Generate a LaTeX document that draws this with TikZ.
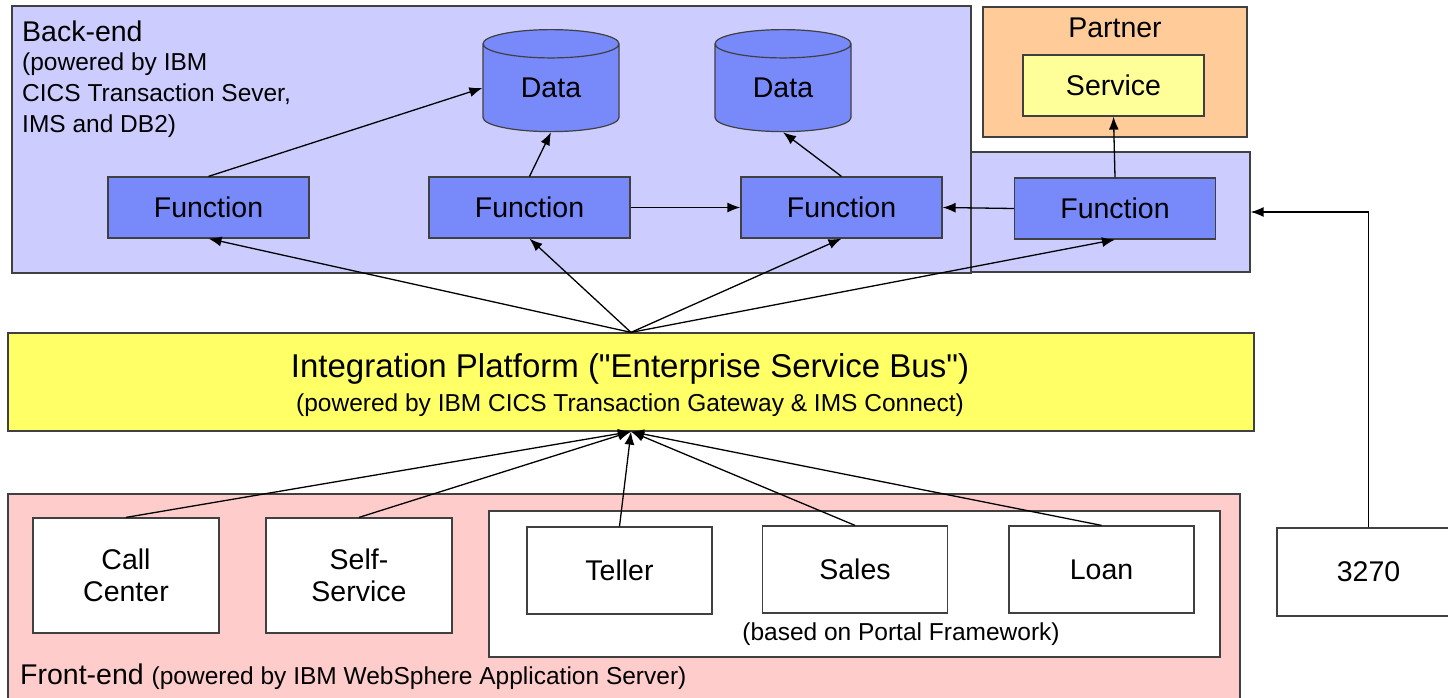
\documentclass[tikz,border=0pt]{standalone}
\usepackage{fontspec}
\setmainfont{Liberation Sans}
\usetikzlibrary{shapes.geometric}
\usetikzlibrary{arrows.meta}

\definecolor{backblue}{HTML}{CCCCFF}
\definecolor{funcblue}{HTML}{7889F9}
\definecolor{partnerorange}{HTML}{FFCC99}
\definecolor{serviceyellow}{HTML}{FFFF99}
\definecolor{busyellow}{HTML}{FFFF66}
\definecolor{frontpink}{HTML}{FFCCCC}
\definecolor{edgegray}{HTML}{404040}

\newcommand\labelsize{\fontsize{28.5}{32}\selectfont}
\newcommand\notesize{\fontsize{24.5}{31}\selectfont}
\newcommand\titlesize{\fontsize{33}{36}\selectfont}

\tikzset{
  area/.style={draw=edgegray, line width=1.2pt, inner sep=0pt},
  func/.style={area, fill=funcblue, minimum width=201pt, minimum height=61pt, font=\labelsize},
  store/.style={area, fill=funcblue, cylinder, shape border rotate=90, aspect=0.47,
                minimum width=136pt, minimum height=102pt, font=\labelsize},
  client/.style={area, fill=white, align=center, font=\labelsize},
  bigtext/.style={inner sep=0pt, font=\labelsize},
  smalltext/.style={inner sep=0pt, font=\notesize},
  link/.style={line width=1.3pt, -{Latex[length=13pt,width=10pt]}}
}

\begin{document}
\begin{tikzpicture}[x=1pt,y=-1pt]
        \useasboundingbox (0,0) rectangle (1448,698);

        % back-end and partner
        \path node (backend) [area,fill=backblue,minimum width=959pt,minimum height=267pt] at (491.5,139.5) {};
        \path node (ext) [area,fill=backblue,minimum width=279pt,minimum height=120pt] at (1110.5,212) {};
        \path node (partner) [area,fill=partnerorange,minimum width=264pt,minimum height=130pt] at (1115,72) {};
        \path node (bename) [bigtext,anchor=west] at (22,31) {Back-end};
        \path node (benote) [smalltext,anchor=west,align=left] at (22,95) {(powered by IBM\\CICS Transaction Sever,\\IMS and DB2)};
        \path node (ptname) [bigtext] at (1115,28) {Partner};
        \path node (service) [area,fill=serviceyellow,minimum width=181pt,minimum height=61pt,font=\labelsize] at (1113.5,85.5) {Service};

        \path node (data1) [store] at (551,88) {Data};
        \path node (data2) [store] at (783,88) {Data};

        \path node (fn1) [func] at (208.5,207.5) {Function};
        \path node (fn2) [func] at (529.5,207.5) {Function};
        \path node (fn3) [func] at (841.5,207.5) {Function};
        \path node (fn4) [func] at (1115,208.5) {Function};

        % integration platform
        \path node (esb) [area,fill=busyellow,minimum width=1246pt,minimum height=98pt] at (631,382) {};
        \path node (esbtitle) [inner sep=0pt,font=\titlesize] at (630,369) {Integration Platform (\textquotedbl Enterprise Service Bus\textquotedbl)};
        \path node (esbnote) [smalltext] at (630,405) {(powered by IBM CICS Transaction Gateway \& IMS Connect)};

        % front-end
        \path node (front) [area,fill=frontpink,minimum width=1232pt,minimum height=216pt] at (624,602) {};
        \path node (call) [client,minimum width=186pt,minimum height=115pt] at (126,575.5) {Call\\Center};
        \path node (self) [client,minimum width=186pt,minimum height=115pt] at (359,575.5) {Self-\\Service};
        \path node (portal) [area,fill=white,minimum width=731pt,minimum height=146pt] at (854.5,584) {};
        \path node (teller) [client,minimum width=185pt,minimum height=87pt] at (619.5,570.5) {Teller};
        \path node (sales) [client,minimum width=185pt,minimum height=87pt] at (855,569.5) {Sales};
        \path node (loan) [client,minimum width=185pt,minimum height=87pt] at (1101.5,569.5) {Loan};
        \path node (ptnote) [smalltext] at (901,634) {(based on Portal Framework)};
        \path node (frname) [inner sep=0pt,anchor=west] at (20,677) {{\labelsize Front-end }{\notesize (powered by IBM WebSphere Application Server)}};

        \path node (term) [client,minimum width=183pt,minimum height=88pt] at (1368.5,572) {3270};

        % connectors
        \draw[link] (esb.north) -- (fn1.south);
        \draw[link] (esb.north) -- (fn2.south);
        \draw[link] (esb.north) -- (fn3.south);
        \draw[link] (esb.north) -- (fn4.south);

        \draw[link] (call.north) -- (esb.south);
        \draw[link] (self.north) -- (esb.south);
        \draw[link] (teller.north) -- (esb.south);
        \draw[link] (sales.north) -- (esb.south);
        \draw[link] (loan.north) -- (esb.south);

        \draw[link] (fn1.north) -- (data1.180);
        \draw[link] (fn2.north) -- (data1.270);
        \draw[link] (fn3.north) -- (data2.270);
        \draw[link] (fn2.east) -- (fn3.west);
        \draw[link] (fn4.west) -- (fn3.east);
        \draw[link] (fn4.north) -- (service.south);
        \draw[link] (term.north) |- (ext.east);

    \end{tikzpicture}
\end{document}
